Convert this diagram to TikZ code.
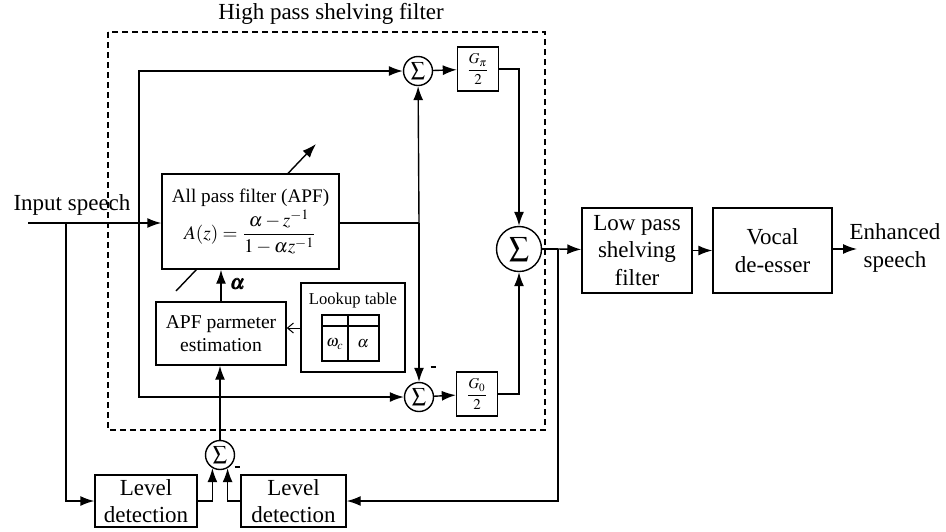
\documentclass[tikz,border=0pt]{standalone}
\usepackage{amsmath}
\usepackage{mathptmx}
\usepackage{fontspec}
\setmainfont{Liberation Serif}
\usetikzlibrary{arrows.meta}

\begin{document}
\begin{tikzpicture}[
        x=0.5pt, y=-0.5pt,
        blk/.style={draw, line width=0.7pt, fill=white, align=center, inner sep=1pt, font=\fontsize{11.5}{13.8}\selectfont},
        sumnode/.style={circle, draw, line width=0.7pt, fill=white, minimum size=14.5pt, inner sep=0pt, font=\fontsize{10}{10}\selectfont},
        gainbox/.style={draw, line width=0.7pt, minimum width=20.5pt, minimum height=22pt, inner sep=0pt, font=\fontsize{7.5}{8}\selectfont},
        txt/.style={align=center, inner sep=0pt, font=\fontsize{11.5}{13.8}\selectfont},
        sign/.style={inner sep=0pt},
        wire/.style={line width=0.7pt},
        arrow/.style={-{Latex[length=7pt,width=5pt]}, line width=0.7pt}
    ]
        \useasboundingbox (0,0) rectangle (946,531);

        % High pass shelving filter frame
        \node[txt] (hp_title) at (331,14) {High pass shelving filter};
        \draw[line width=0.6pt, dash pattern=on 3pt off 2pt] (108,32) rectangle (545,430);

        % Input
        \node[txt] (in_label) at (72,205) {Input speech};
        \coordinate (in_start) at (28,223);
        \coordinate (split_in) at (66,223);
        \coordinate (split_hp) at (139,223);

        % Variable all pass filter
        \draw[arrow] (176,291) -- (316,144);
        \node[blk, minimum width=88.5pt, minimum height=47.5pt, font=\fontsize{9.6}{11.5}\selectfont] (apf) at (250.5,221.5)
            {All pass filter (APF)\\[1pt] $A(z)=\dfrac{\alpha-z^{-1}}{1-\alpha z^{-1}}$};
        \coordinate (j_apf) at (419,223);

        % Parameter estimation
        \node[blk, minimum width=65pt, minimum height=31.5pt, font=\fontsize{9.8}{11.2}\selectfont] (apf_est) at (221,333.5) {APF parmeter\\estimation};
        \node[blk, minimum width=52pt, minimum height=44.5pt] (lookup) at (353,327.5) {};
        \node[inner sep=0pt, font=\fontsize{8.3}{9}\selectfont] (lookup_title) at (353,300) {Lookup table};
        \draw[wire] (322,315) rectangle (379,361);
        \draw[wire] (322,326) -- (379,326);
        \draw[wire] (348,315) -- (348,361);
        \node[inner sep=0pt, font=\fontsize{8}{9}\selectfont] (cell_w) at (335,344) {$\omega_c$};
        \node[inner sep=0pt, font=\fontsize{8}{9}\selectfont] (cell_a) at (363,344) {$\alpha$};

        % Summations and gains
        \node[sumnode] (sum_hi) at (418,71) {$\sum$};
        \node[gainbox] (g_pi) at (478,69) {$\dfrac{G_\pi}{2}$};
        \node[sumnode] (sum_lo) at (419,397) {$\sum$};
        \node[gainbox] (g_0) at (477,394) {$\dfrac{G_0}{2}$};
        \node[sumnode, minimum size=22.5pt, font=\fontsize{14}{14}\selectfont] (sum_out) at (519,249) {$\sum$};
        \coordinate (split_out) at (558,249);

        % Level detection
        \node[sumnode] (sum_lvl) at (220,455) {$\sum$};
        \node[blk, minimum width=51pt, minimum height=26pt] (lvl_in) at (146,501) {Level\\detection};
        \node[blk, minimum width=52.5pt, minimum height=26pt] (lvl_out) at (293.5,501) {Level\\detection};

        % Output chain
        \node[blk, minimum width=55pt, minimum height=42.5pt] (lowpass) at (637,250.5) {Low pass\\shelving\\filter};
        \node[blk, minimum width=59.5pt, minimum height=42.5pt] (deesser) at (772.5,250.5) {Vocal\\de-esser};
        \coordinate (out_end) at (857,249);
        \node[txt] (out_label) at (895,248) {Enhanced\\speech};

        % Signs
        \node[sign] (minus_lo) at (433,367) {\rule{2.5pt}{0.9pt}};
        \node[sign] (minus_lvl) at (237,467) {\rule{2.5pt}{0.9pt}};
        \node[inner sep=0pt, font=\fontsize{10}{10}\selectfont] (alpha_lbl) at (238,284) {$\pmb{\alpha}$};

        % Connections
        \draw[arrow] (in_start) -- (apf.west |- in_start);
        \draw[arrow] (split_hp) |- (sum_hi);
        \draw[arrow] (split_hp) |- (sum_lo);
        \draw[arrow] (split_in) |- (lvl_in);

        \draw[wire] (apf.east |- j_apf) -- (j_apf);
        \draw[arrow] (j_apf) -- (sum_hi);
        \draw[arrow] (j_apf) -- (sum_lo);

        \draw[arrow] (sum_hi) -- (g_pi);
        \draw[arrow] (sum_lo) -- (g_0);
        \draw[arrow] (g_pi.east) -| (sum_out.north);
        \draw[arrow] (g_0.east) -| (sum_out.south);

        \draw[arrow] (apf_est) -- (apf_est.north |- apf.south);
        \draw[-{Straight Barb[length=3pt,width=5pt]}, line width=0.5pt] (lookup.west |- 0,328) -- (apf_est.east |- 0,328);

        \draw[arrow] (sum_lvl.north) -- (apf_est.south -| sum_lvl.north);
        \draw[arrow] (lvl_in.east) -| (sum_lvl.240);
        \draw[arrow] (lvl_out.west) -| (sum_lvl.300);

        \draw[wire] (sum_out) -- (split_out);
        \draw[arrow] (split_out) -- (lowpass);
        \draw[arrow] (split_out) |- (lvl_out);
        \draw[arrow] (lowpass) -- (deesser);
        \draw[arrow] (deesser.east |- out_end) -- (out_end);
    \end{tikzpicture}
\end{document}
